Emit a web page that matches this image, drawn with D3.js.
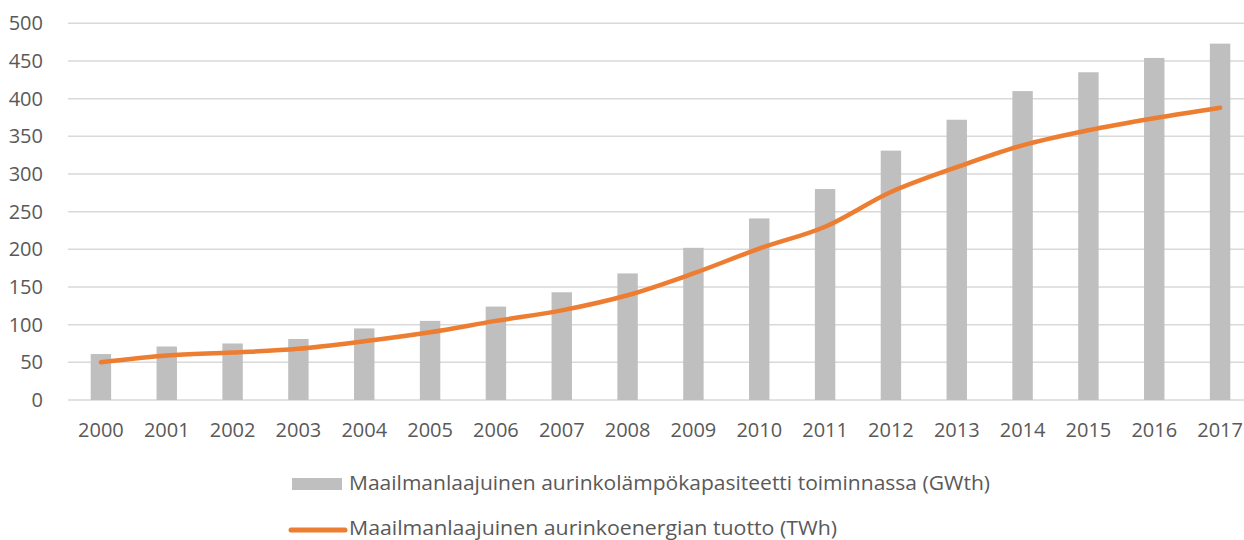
<!DOCTYPE html>
<html>
<head>
<meta charset="utf-8">
<style>
  body { margin: 0; background: #fff; }
  text { font-family: "Open Sans", sans-serif; fill: #595959; }
</style>
</head>
<body>
<div id="container"></div>
<script src="https://d3js.org/d3.v7.min.js"></script>
<script>
var years = ["2000","2001","2002","2003","2004","2005","2006","2007","2008","2009",
             "2010","2011","2012","2013","2014","2015","2016","2017"];
// capacity in operation (GWth)
var capacity = [61, 71, 75, 81, 95, 105, 124, 143, 168, 202, 241, 280, 331, 372, 410, 435, 454, 473];
// energy yield (TWh)
var energy = [50, 59, 63, 68, 78, 90, 105, 119, 139, 168, 201, 230, 276, 309, 338, 358, 374, 388];
var yTicks = [0, 50, 100, 150, 200, 250, 300, 350, 400, 450, 500];
var legendLabels = ["Maailmanlaajuinen aurinkolämpökapasiteetti toiminnassa (GWth)",
                    "Maailmanlaajuinen aurinkoenergian tuotto (TWh)"];

var W = 1244, H = 540;
var plot = {left: 68, right: 1253, top: 23.3, bottom: 400};

var svg = d3.select("#container").append("svg")
  .attr("width", W)
  .attr("height", H);

var x = d3.scaleBand()
  .domain(years)
  .range([plot.left, plot.right])
  .paddingInner(0.69)
  .paddingOuter(0.345);

var y = d3.scaleLinear()
  .domain([0, 500])
  .range([plot.bottom, plot.top]);

// gridlines
svg.append("g").selectAll("line").data(yTicks).enter().append("line")
  .attr("x1", plot.left).attr("x2", plot.right)
  .attr("y1", function(d) { return y(d); })
  .attr("y2", function(d) { return y(d); })
  .attr("stroke", "#d9d9d9")
  .attr("stroke-width", 1.5);

// y axis labels
var yAxis = svg.append("g")
  .attr("transform", "translate(" + 49 + ",0)")
  .call(d3.axisLeft(y).tickValues(yTicks).tickSize(0).tickPadding(6));
yAxis.select(".domain").remove();
yAxis.selectAll("text")
  .style("font-family", "'Open Sans', sans-serif")
  .style("font-size", "20px")
  .attr("fill", "#595959");

// x axis labels
var xAxis = svg.append("g")
  .attr("transform", "translate(0," + plot.bottom + ")")
  .call(d3.axisBottom(x).tickSize(0).tickPadding(23));
xAxis.select(".domain").remove();
xAxis.selectAll("text")
  .style("font-family", "'Open Sans', sans-serif")
  .style("font-size", "20px")
  .attr("fill", "#595959");

// bars
svg.append("g").selectAll("rect").data(capacity).enter().append("rect")
  .attr("x", function(d, i) { return x(years[i]); })
  .attr("y", function(d) { return y(d); })
  .attr("width", x.bandwidth())
  .attr("height", function(d) { return y(0) - y(d); })
  .attr("fill", "#bfbfbf");

// smooth line
var line = d3.line()
  .x(function(d, i) { return x(years[i]) + x.bandwidth() / 2; })
  .y(function(d) { return y(d); })
  .curve(d3.curveCatmullRom.alpha(0.5));

svg.append("path")
  .datum(energy)
  .attr("d", line)
  .attr("fill", "none")
  .attr("stroke", "#ed7d31")
  .attr("stroke-width", 4.5)
  .attr("stroke-linecap", "round");

// legend
var legend = svg.append("g");
legend.append("rect").attr("x", 292).attr("y", 478).attr("width", 50).attr("height", 12).attr("fill", "#bfbfbf");
legend.append("line").attr("x1", 291).attr("x2", 345).attr("y1", 530).attr("y2", 530)
  .attr("stroke", "#ed7d31").attr("stroke-width", 5).attr("stroke-linecap", "round");
legend.append("text").attr("x", 349).attr("y", 485).attr("dominant-baseline", "middle")
  .style("font-size", "20px").attr("textLength", 641).attr("lengthAdjust", "spacingAndGlyphs")
  .text(legendLabels[0]);
legend.append("text").attr("x", 349).attr("y", 530).attr("dominant-baseline", "middle")
  .style("font-size", "20px").attr("textLength", 488).attr("lengthAdjust", "spacingAndGlyphs")
  .text(legendLabels[1]);
</script>
</body>
</html>
